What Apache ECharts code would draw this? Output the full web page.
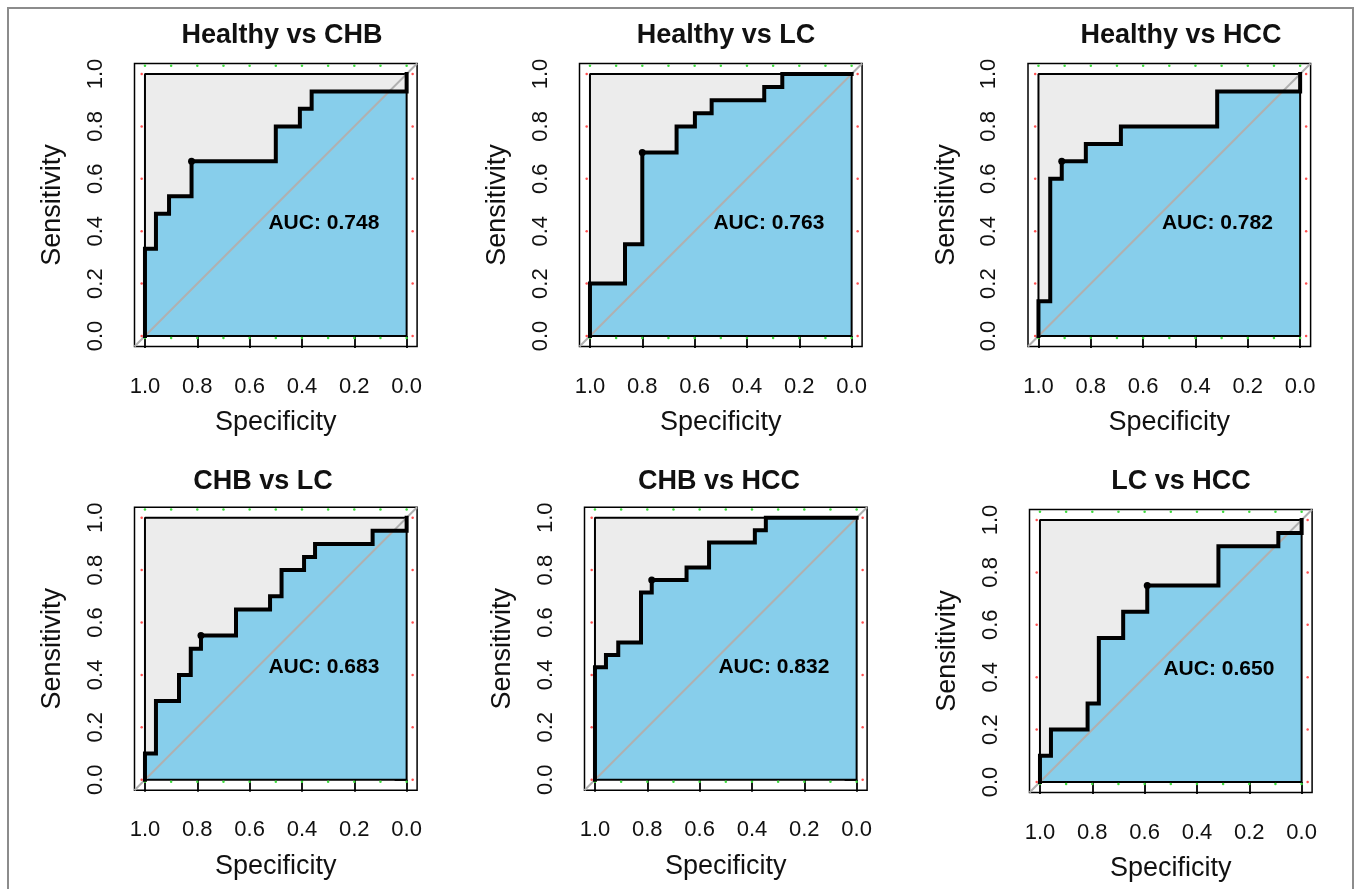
<!DOCTYPE html>
<html>
<head>
<meta charset="utf-8">
<script src="https://cdn.jsdelivr.net/npm/echarts@6.0.0/dist/echarts.min.js"></script>
<style>
html,body{margin:0;padding:0;background:#fff;}
#chart{width:1360px;height:889px;}
</style>
</head>
<body>
<div id="chart"></div>
<script>
// ---------------- data ----------------
const panelTitles = ['Healthy vs CHB', 'Healthy vs LC', 'Healthy vs HCC', 'CHB vs LC', 'CHB vs HCC', 'LC vs HCC'];
const aucValues = [0.748, 0.763, 0.782, 0.683, 0.832, 0.650];
const tickValues = [0, 0.2, 0.4, 0.6, 0.8, 1.0];
const xLabel = 'Specificity';
const yLabel = 'Sensitivity';

// ROC curve vertices (specificity, sensitivity)
const spec1 = [1, 1, 0.958, 0.958, 0.908, 0.908, 0.822, 0.822, 0.50, 0.50, 0.408, 0.408, 0.363, 0.363, 0, 0];
const sens1 = [0, 0.333, 0.333, 0.467, 0.467, 0.533, 0.533, 0.667, 0.667, 0.80, 0.80, 0.867, 0.867, 0.933, 0.933, 1];
const spec2 = [1, 1, 0.866, 0.866, 0.80, 0.80, 0.669, 0.669, 0.599, 0.599, 0.535, 0.535, 0.334, 0.334, 0.265, 0.265, 0];
const sens2 = [0, 0.20, 0.20, 0.35, 0.35, 0.70, 0.70, 0.80, 0.80, 0.85, 0.85, 0.90, 0.90, 0.95, 0.95, 1, 1];
const spec3 = [1, 1, 0.955, 0.955, 0.911, 0.911, 0.819, 0.819, 0.685, 0.685, 0.317, 0.317, 0, 0];
const sens3 = [0, 0.133, 0.133, 0.60, 0.60, 0.667, 0.667, 0.733, 0.733, 0.80, 0.80, 0.933, 0.933, 1];
const spec4 = [1, 1, 0.958, 0.958, 0.870, 0.870, 0.825, 0.825, 0.786, 0.786, 0.652, 0.652, 0.522, 0.522, 0.478, 0.478, 0.392, 0.392, 0.350, 0.350, 0.130, 0.130, 0, 0];
const sens4 = [0, 0.10, 0.10, 0.30, 0.30, 0.40, 0.40, 0.50, 0.50, 0.55, 0.55, 0.65, 0.65, 0.70, 0.70, 0.80, 0.80, 0.85, 0.85, 0.90, 0.90, 0.95, 0.95, 1];
const spec5 = [1, 1, 0.958, 0.958, 0.911, 0.911, 0.824, 0.824, 0.783, 0.783, 0.650, 0.650, 0.564, 0.564, 0.389, 0.389, 0.347, 0.347, 0];
const sens5 = [0, 0.429, 0.429, 0.476, 0.476, 0.524, 0.524, 0.714, 0.714, 0.762, 0.762, 0.810, 0.810, 0.905, 0.905, 0.952, 0.952, 1, 1];
const spec6 = [1, 1, 0.958, 0.958, 0.818, 0.818, 0.775, 0.775, 0.682, 0.682, 0.590, 0.590, 0.318, 0.318, 0.089, 0.089, 0, 0];
const sens6 = [0, 0.10, 0.10, 0.20, 0.20, 0.30, 0.30, 0.55, 0.55, 0.65, 0.65, 0.75, 0.75, 0.90, 0.90, 0.95, 0.95, 1];

// best threshold points
const bestSpec = [0.822, 0.80, 0.911, 0.786, 0.783, 0.590];
const bestSens = [0.667, 0.70, 0.667, 0.55, 0.762, 0.75];

// small marker dots along the box edges
const topDotX = [0, 0.1, 0.2, 0.3, 0.4, 0.5, 0.6, 0.7, 0.8, 0.9, 1.0];
const sideDotY = [0, 0.2, 0.4, 0.6, 0.8, 1.0];

// ---------------- layout ----------------
const specs = [spec1, spec2, spec3, spec4, spec5, spec6];
const senss = [sens1, sens2, sens3, sens4, sens5, sens6];
const gridPos = [
  {left: 134.5, top: 63.5},
  {left: 579.5, top: 63.5},
  {left: 1028, top: 63.5},
  {left: 134.5, top: 507.2},
  {left: 584.5, top: 507.2},
  {left: 1029.5, top: 509.5}
];
const titlePos = [[282, 36], [726, 36], [1181, 36], [263, 482], [719, 482], [1181, 482]];
const GW = 282.6, GH = 283;
const FONT = '"Liberation Sans", Arial, Helvetica, sans-serif';

const chart = echarts.init(document.getElementById('chart'), null, {renderer: 'canvas'});

const grids = [], xAxes = [], yAxes = [], series = [], graphics = [];

graphics.push({
  type: 'rect', z: 100,
  shape: {x: 8, y: 8, width: 1345, height: 910},
  style: {fill: 'none', stroke: '#8c8c8c', lineWidth: 2}
});

for (let i = 0; i < 6; i++) {
  grids.push({left: gridPos[i].left, top: gridPos[i].top, width: GW, height: GH,
    show: true, borderColor: '#000', borderWidth: 1.5, backgroundColor: '#fff'});
  xAxes.push({
    gridIndex: i, type: 'value', min: -0.04, max: 1.04, inverse: true,
    axisLine: {show: false}, splitLine: {show: false},
    axisTick: {show: true, inside: false, length: 12, customValues: tickValues, lineStyle: {color: '#000', width: 1.8}},
    axisLabel: {customValues: tickValues, formatter: v => v.toFixed(1), fontSize: 22, color: '#111', margin: 29, fontFamily: FONT},
    name: xLabel, nameLocation: 'middle', nameGap: 63,
    nameTextStyle: {fontSize: 27, color: '#111', fontFamily: FONT}
  });
  yAxes.push({
    gridIndex: i, type: 'value', min: -0.04, max: 1.04,
    axisLine: {show: false}, splitLine: {show: false},
    axisTick: {show: true, inside: false, length: 12, customValues: tickValues, lineStyle: {color: '#000', width: 1.8}},
    axisLabel: {customValues: tickValues, formatter: v => v.toFixed(1), fontSize: 22, color: '#111', margin: 28, rotate: 90, fontFamily: FONT},
    name: yLabel, nameLocation: 'middle', nameGap: 68,
    nameTextStyle: {fontSize: 27, color: '#111', fontFamily: FONT}
  });

  const roc = specs[i].map((s, k) => [s, senss[i][k]]);

  // max AUC polygon (gray)
  series.push({
    type: 'line', xAxisIndex: i, yAxisIndex: i, data: [[1, 1], [0, 1]],
    symbol: 'none', lineStyle: {width: 0}, areaStyle: {color: '#ececec', opacity: 1},
    silent: true, z: 1
  });
  // AUC polygon (skyblue)
  series.push({
    type: 'line', xAxisIndex: i, yAxisIndex: i, data: roc,
    symbol: 'none', lineStyle: {width: 0}, areaStyle: {color: '#87CEEB', opacity: 1},
    silent: true, z: 2
  });
  // data-region border
  series.push({
    type: 'line', xAxisIndex: i, yAxisIndex: i, data: [[1, 0], [1, 1], [0, 1], [0, 0], [1, 0]],
    symbol: 'none', lineStyle: {width: 2, color: '#000'}, silent: true, z: 3
  });
  // identity diagonal
  series.push({
    type: 'line', xAxisIndex: i, yAxisIndex: i, data: [[1.04, -0.04], [-0.04, 1.04]],
    symbol: 'none', lineStyle: {width: 2, color: '#b0b0b0'}, silent: true, z: 4
  });
  // edge dots
  const dots = [];
  topDotX.forEach(x => { dots.push({value: [x, 1.031], itemStyle: {color: '#3ddc3d'}}); dots.push({value: [x, -0.008], itemStyle: {color: '#3ddc3d'}}); });
  sideDotY.forEach(y => { dots.push({value: [1.0126, y], itemStyle: {color: '#ff5050'}}); dots.push({value: [-0.023, y], itemStyle: {color: '#ff5050'}}); });
  series.push({
    type: 'scatter', xAxisIndex: i, yAxisIndex: i, data: dots, symbol: 'circle', symbolSize: 2.5,
    itemStyle: {opacity: 1}, silent: true, z: 5
  });
  // ROC curve
  series.push({
    type: 'line', xAxisIndex: i, yAxisIndex: i, data: roc,
    symbol: 'none', lineStyle: {width: 4, color: '#000', join: 'miter', cap: 'square'}, silent: true, z: 6
  });
  // best threshold point
  series.push({
    type: 'scatter', xAxisIndex: i, yAxisIndex: i, data: [[bestSpec[i], bestSens[i]]],
    symbol: 'circle', symbolSize: 7, itemStyle: {color: '#000', opacity: 1}, silent: true, z: 7
  });
  // AUC label
  series.push({
    type: 'scatter', xAxisIndex: i, yAxisIndex: i, data: [[0.53, 0.43]],
    symbolSize: 1, itemStyle: {color: 'rgba(0,0,0,0)', opacity: 1}, silent: true, z: 8,
    label: {show: true, position: 'right', distance: 0, formatter: 'AUC: ' + aucValues[i].toFixed(3),
      fontSize: 21, fontWeight: 'bold', color: '#000', opacity: 1, fontFamily: FONT}
  });

  graphics.push({
    type: 'text', x: titlePos[i][0], y: titlePos[i][1], z: 50,
    style: {text: panelTitles[i], font: 'bold 27px ' + FONT, fill: '#111', align: 'center', verticalAlign: 'middle'}
  });
}

chart.setOption({
  animation: false,
  backgroundColor: '#fff',
  grid: grids,
  xAxis: xAxes,
  yAxis: yAxes,
  series: series,
  graphic: graphics
});
</script>
</body>
</html>
